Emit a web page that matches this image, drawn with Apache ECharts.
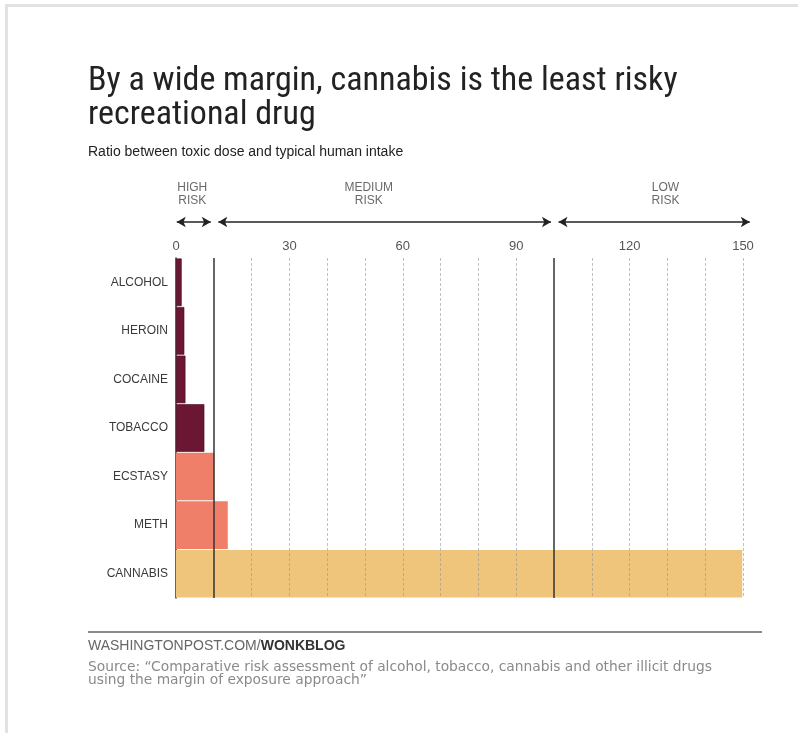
<!DOCTYPE html>
<html><head><meta charset="utf-8">
<script src="https://cdn.jsdelivr.net/npm/echarts@6/dist/echarts.min.js"></script>
<style>html,body{margin:0;padding:0;background:#fff}#c{width:798px;height:733px}</style>
</head><body><div id="c"></div>
<script>
// ---- data ----
const drugs = ['ALCOHOL','HEROIN','COCAINE','TOBACCO','ECSTASY','METH','CANNABIS'];
const ratios = [1.5, 2.2, 2.5, 7.5, 10.1, 13.7, 149.8];
const drugGroup = ['a','a','a','a','b','b','c'];
const tickLabels = [0, 30, 60, 90, 120, 150];
const gridLineValues = [20, 30, 40, 50, 60, 70, 80, 90, 110, 120, 130, 140, 150];
const thresholds = [10, 100];
const riskNames = ['HIGH\nRISK', 'MEDIUM\nRISK', 'LOW\nRISK'];
const riskFrom = [0, 10, 100];
const riskTo = [10, 100, 152.6];
const riskLabelAt = [4.3, 51, 129.5];

// ---- styles ----
const groupColor = {a: '#6b1632', b: '#f07f69', c: '#efc47b'};
const narrow = "'Liberation Sans Narrow','Roboto Condensed','DejaVu Sans Condensed','Liberation Sans',sans-serif";
const plain = "'Liberation Sans', Arial, sans-serif";

const chart = echarts.init(document.getElementById('c'), null, {renderer: 'canvas'});

const barData = ratios.map((v, i) => ({
  value: v,
  itemStyle: {color: groupColor[drugGroup[i]], borderColor: drugGroup[i] === 'a' ? '#4a0c20' : 'transparent', borderWidth: drugGroup[i] === 'a' ? 0.6 : 0}
}));

const lineMarks = gridLineValues.map(v => ({xAxis: v, lineStyle: {color: 'rgba(150,150,150,0.6)', type: [3, 2], width: 1}}))
  .concat(thresholds.map(v => ({xAxis: v, lineStyle: {color: '#333', type: 'solid', width: 1.5}})));

const arrowMarks = riskNames.map((n, i) => [
  {coord: [riskFrom[i] + (i === 0 ? 0.2 : 1.2), 0.5]},
  {coord: [riskTo[i] - 0.8, 0.5]}
]);

// arrow band uses the same px-per-unit scale as the main axis, extended to 155
const mainW = 798 - 176 - 55;
const bandMax = 155;
const bandRight = 798 - 176 - mainW * bandMax / 150;

chart.setOption({
  animation: false,
  grid: [
    {left: 176, right: 55, top: 258, bottom: 135, containLabel: false},
    {left: 176, right: bandRight, top: 212, height: 20}
  ],
  xAxis: [
    {
      type: 'value', gridIndex: 0, position: 'top', min: 0, max: 150, interval: 30,
      axisLine: {show: false}, axisTick: {show: false}, splitLine: {show: false},
      axisLabel: {margin: 5, color: '#555', fontSize: 13, fontFamily: plain,
        formatter: v => tickLabels.includes(v) ? String(v) : ''}
    },
    {type: 'value', gridIndex: 1, min: 0, max: bandMax, show: false}
  ],
  yAxis: [
    {
      type: 'category', gridIndex: 0, data: drugs, inverse: true,
      axisLine: {show: true, lineStyle: {color: '#333', width: 1.5}},
      axisTick: {show: false},
      axisLabel: {margin: 8, color: '#3a3a3a', fontSize: 12, fontFamily: plain}
    },
    {type: 'value', gridIndex: 1, min: 0, max: 1, show: false}
  ],
  series: [
    {
      type: 'bar', xAxisIndex: 0, yAxisIndex: 0, data: barData,
      barCategoryGap: '2%', z: 2,
      markLine: {silent: true, symbol: 'none', z: 5, label: {show: false}, data: lineMarks}
    },
    {
      type: 'scatter', xAxisIndex: 1, yAxisIndex: 1, clip: false, symbolSize: 0,
      data: riskNames.map((n, i) => ({value: [riskLabelAt[i], 1.9], name: n})),
      label: {show: true, position: 'inside', formatter: p => p.name, color: '#444',
        fontSize: 12, lineHeight: 13, fontFamily: plain, align: 'center'},
      markLine: {
        silent: true, symbol: ['arrow', 'arrow'], symbolSize: [8, 9],
        lineStyle: {color: '#222', width: 1.5, type: 'solid'},
        label: {show: false}, data: arrowMarks
      }
    }
  ],
  graphic: [
    {type: 'rect', shape: {x: 5, y: 4, width: 793, height: 3}, style: {fill: '#e2e2e2'}, silent: true},
    {type: 'rect', shape: {x: 5, y: 4, width: 3, height: 729}, style: {fill: '#e2e2e2'}, silent: true},
    {type: 'text', left: 88, top: 64, style: {text: 'By a wide margin, cannabis is the least risky\nrecreational drug',
      fill: '#222', font: "34px " + narrow, lineHeight: 34}},
    {type: 'text', left: 88, top: 145, style: {text: 'Ratio between toxic dose and typical human intake',
      fill: '#222', font: "14px " + plain}},
    {type: 'rect', shape: {x: 88, y: 631, width: 674, height: 2}, style: {fill: '#8a8a8a'}, silent: true},
    {type: 'text', left: 88, top: 639, style: {text: '{a|WASHINGTONPOST.COM/}{b|WONKBLOG}',
      rich: {a: {fill: '#666', font: "14px " + plain}, b: {fill: '#333', font: "bold 14px " + plain}}}},
    {type: 'text', left: 88, top: 660, style: {text: 'Source: “Comparative risk assessment of alcohol, tobacco, cannabis and other illicit drugs\nusing the margin of exposure approach”',
      fill: '#8a8a8a', font: "13.8px 'DejaVu Sans', sans-serif", lineHeight: 13.5}}
  ]
});
</script></body></html>
